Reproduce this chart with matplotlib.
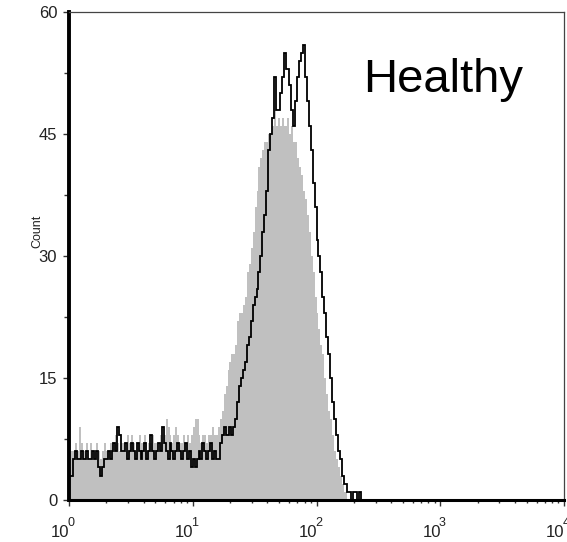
import numpy as np
import matplotlib
matplotlib.use("Agg")
import matplotlib.pyplot as plt
from matplotlib.ticker import LogLocator, NullFormatter

plt.rcParams['font.family'] = ['Liberation Sans', 'DejaVu Sans']

# channel counts, 64 channels per decade starting at 10^0
gray_counts = [
    4, 6, 6, 7, 6, 9, 7, 6, 6, 7, 5, 7, 6, 6, 7, 6, 5, 6, 7, 6,
    6, 7, 7, 6, 8, 7, 6, 7, 7, 6, 8, 7, 8, 7, 6, 7, 8, 7, 7, 8,
    6, 7, 7, 8, 7, 7, 6, 8, 7, 8, 10, 9, 8, 7, 8, 9, 8, 7, 7, 8,
    7, 8, 7, 8, 9, 10, 10, 8, 7, 8, 8, 7, 8, 8, 9, 8,
    8, 9, 10, 11, 13, 14, 16, 17, 18, 18, 19, 22, 23, 23, 24, 25,
    28, 29, 31, 33, 36, 38, 41, 42, 43, 44, 44, 45, 45, 46, 48, 46,
    47, 46, 47, 46, 46, 47, 45, 46, 44, 44, 42, 41, 40, 38, 37, 35,
    33, 30, 28, 25, 23, 21, 19, 18, 15, 13, 11, 10, 8, 6, 5, 4,
    3, 2, 1, 1, 0,
]

black_counts = [
    3, 3, 5, 6, 5, 5, 6, 5, 5, 6, 5, 5, 6, 5, 6, 4, 3, 4, 5, 5,
    6, 5, 6, 7, 6, 9, 8, 6, 6, 7, 5, 6, 7, 6, 5, 7, 6, 5, 6, 7,
    5, 6, 8, 6, 5, 6, 7, 6, 9, 7, 6, 5, 7, 6, 5, 6, 7, 6, 5, 6,
    7, 5, 6, 4, 5, 4, 5, 6, 5, 7, 6, 5, 6, 7, 5,
    6, 5, 5, 7, 8, 9, 8, 8, 9, 8, 9, 10, 12, 14, 15, 16, 17, 19,
    20, 22, 24, 25, 26, 28, 30, 33, 35, 38, 43, 45, 47, 52, 48, 48,
    50, 52, 55, 53, 53, 51, 48, 46, 49, 52, 54, 55, 56, 52, 49, 46,
    43, 39, 36, 32, 30, 28, 25, 23, 20, 18, 15, 12, 10, 8, 6, 5,
    3, 2, 2, 1, 1, 0, 1, 1, 0, 1, 0,
]

y_ticks = [0, 15, 30, 45, 60]
x_decades = [0, 1, 2, 3, 4]
label_text = "Healthy"
ylabel_text = "Count"

fig = plt.figure(figsize=(5.67, 5.42), dpi=100)
ax = fig.add_axes([69/567, 1 - 500/542, (564 - 69)/567, (500 - 12)/542])

gray_edges = 10 ** (np.arange(len(gray_counts) + 1) / 64.0)
black_edges = 10 ** (np.arange(len(black_counts) + 1) / 64.0)

ax.stairs(gray_counts, gray_edges, fill=True, color='#c0c0c0', baseline=0)
ax.stairs(black_counts, black_edges, color='black', lw=1.3, baseline=None)

ax.set_xscale('log')
ax.set_xlim(1, 1e4)
ax.set_ylim(0, 60)

ax.set_yticks(y_ticks)
ax.set_yticklabels([str(v) for v in y_ticks], fontsize=12, color='#222222')
ax.set_yticks(np.arange(7.5, 60, 15), minor=True)
ax.set_xticks([10 ** d for d in x_decades])
ax.set_xticklabels([])
ax.xaxis.set_minor_locator(LogLocator(base=10, subs=np.arange(2, 10)))
ax.xaxis.set_minor_formatter(NullFormatter())

ax.tick_params(axis='y', which='major', direction='out', length=4.5, width=1, color='#333333', pad=4)
ax.tick_params(axis='y', which='minor', direction='out', length=3.5, width=1, color='#333333')
ax.tick_params(axis='x', which='major', direction='out', length=4.5, width=1, color='#333333')
ax.tick_params(axis='x', which='minor', direction='out', length=2.5, width=1, color='#333333')

# decade labels drawn as "10" with an overlapping superscript exponent
for d in x_decades:
    ax.annotate('10', xy=(10 ** d, 0), xycoords=('data', 'axes fraction'),
                xytext=(0.5, -26.6), textcoords='offset points',
                ha='right', va='baseline', fontsize=12, color='#222222',
                annotation_clip=False)
    ax.annotate(str(d), xy=(10 ** d, 0), xycoords=('data', 'axes fraction'),
                xytext=(-1.2, -18.5), textcoords='offset points',
                ha='left', va='baseline', fontsize=9, color='#222222',
                annotation_clip=False)

ax.text(-0.0646, 0.551, ylabel_text, transform=ax.transAxes, rotation=90,
        ha='center', va='center', fontsize=9, color='#222222')

ax.spines['left'].set_linewidth(2.8)
ax.spines['left'].set_color('black')
ax.spines['bottom'].set_linewidth(2.2)
ax.spines['bottom'].set_color('black')
ax.spines['top'].set_linewidth(0.9)
ax.spines['top'].set_color('#444444')
ax.spines['right'].set_linewidth(0.9)
ax.spines['right'].set_color('#444444')

ax.text(10 ** 2.377, 50.2, label_text, fontsize=34, ha='left', va='baseline', color='black')

fig.savefig('out.png', dpi=100)
